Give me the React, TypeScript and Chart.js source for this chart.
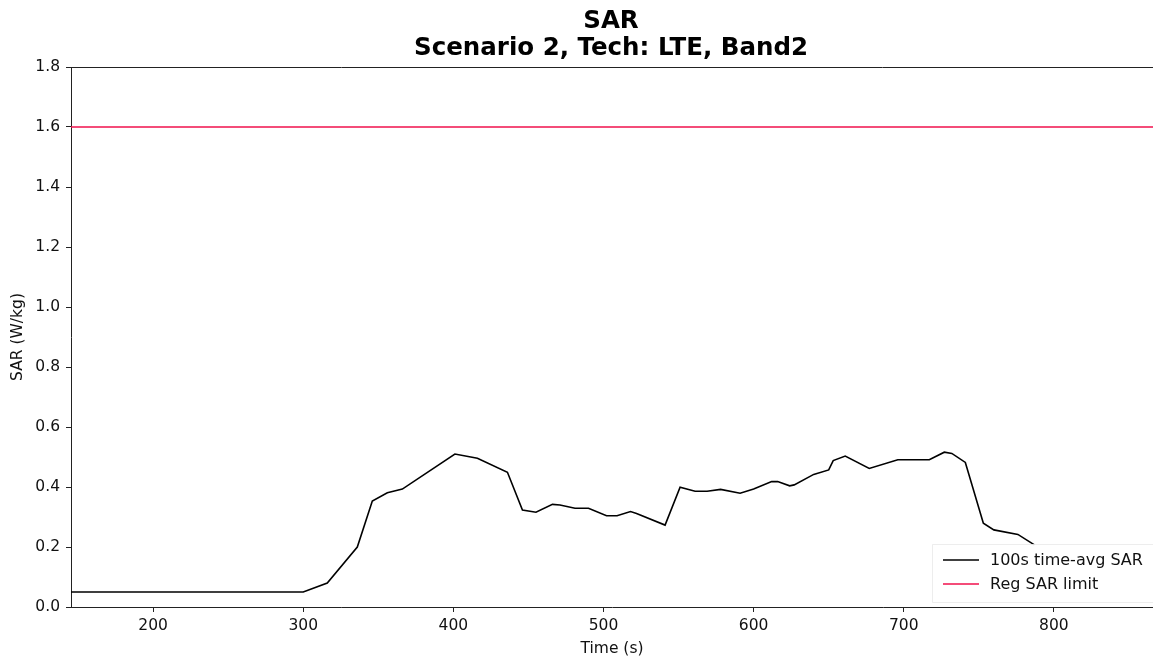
import React, { useEffect, useRef } from "react";
import { Chart, registerables } from "chart.js";

Chart.register(...registerables);

const titleLines = ["SAR", "Scenario 2, Tech: LTE, Band2"];
const timeS = [145, 300, 316, 336, 346, 356, 366, 401, 416, 436, 446, 455, 466, 471, 481, 490, 502, 509, 518, 522, 541, 551, 561, 569, 578, 591, 600, 612, 616, 624, 627, 640, 650, 653, 661, 677, 696, 717, 727, 732, 741, 753, 760, 776, 787];
const sarAvg = [0.05, 0.05, 0.08, 0.2, 0.353, 0.381, 0.393, 0.51, 0.496, 0.449, 0.323, 0.316, 0.342, 0.34, 0.329, 0.329, 0.304, 0.304, 0.318, 0.312, 0.273, 0.399, 0.386, 0.386, 0.392, 0.379, 0.393, 0.418, 0.418, 0.404, 0.407, 0.442, 0.457, 0.488, 0.503, 0.462, 0.491, 0.491, 0.516, 0.512, 0.482, 0.279, 0.257, 0.242, 0.207];
const limitX = [145, 866];
const limitY = [1.6, 1.6];
const xTicks = [200, 300, 400, 500, 600, 700, 800];
const yTicks = [0, 0.2, 0.4, 0.6, 0.8, 1.0, 1.2, 1.4, 1.6, 1.8];
const seriesLabels = ["100s time-avg SAR", "Reg SAR limit"];
const seriesColors = ["#000000", "#f0104c"];

const FONT = "'DejaVu Sans', sans-serif";

const decorPlugin = {
  id: "decor",
  afterDraw(chart: any) {
    const { ctx, chartArea } = chart;
    ctx.save();
    // top spine
    ctx.strokeStyle = "#222";
    ctx.lineWidth = 1;
    ctx.beginPath();
    ctx.moveTo(chartArea.left, chartArea.top + 0.5);
    ctx.lineTo(chartArea.right, chartArea.top + 0.5);
    ctx.stroke();
    // title
    ctx.fillStyle = "#000";
    ctx.font = `bold 24.5px ${FONT}`;
    ctx.textAlign = "center";
    ctx.textBaseline = "middle";
    ctx.fillText(titleLines[0], 611, 22);
    ctx.fillText(titleLines[1], 611, 49);
    // legend
    const bx = 932, by = 544, bw = 240, bh = 58;
    ctx.fillStyle = "rgba(255,255,255,0.85)";
    ctx.strokeStyle = "rgba(232,232,232,0.8)";
    ctx.lineWidth = 1;
    ctx.beginPath();
    ctx.rect(bx + 0.5, by + 0.5, bw, bh);
    ctx.fill();
    ctx.stroke();
    ctx.font = `16px ${FONT}`;
    ctx.textAlign = "left";
    ctx.textBaseline = "middle";
    const rows = [560, 584];
    seriesLabels.forEach((lab, i) => {
      ctx.strokeStyle = seriesColors[i];
      ctx.lineWidth = 1.5;
      ctx.beginPath();
      ctx.moveTo(943, rows[i]);
      ctx.lineTo(979, rows[i]);
      ctx.stroke();
      ctx.fillStyle = "#111";
      ctx.fillText(lab, 990, rows[i] + 1);
    });
    ctx.restore();
  },
};

export default function App() {
  const ref = useRef<HTMLCanvasElement | null>(null);
  useEffect(() => {
    if (!ref.current) return;
    const chart = new Chart(ref.current, {
      type: "line",
      data: {
        datasets: [
          {
            label: seriesLabels[0],
            data: timeS.map((t, i) => ({ x: t, y: sarAvg[i] })),
            borderColor: seriesColors[0],
            borderWidth: 1.6,
            pointRadius: 0,
            tension: 0,
            fill: false,
          },
          {
            label: seriesLabels[1],
            data: limitX.map((t, i) => ({ x: t, y: limitY[i] })),
            borderColor: seriesColors[1],
            borderWidth: 1.6,
            pointRadius: 0,
            tension: 0,
            fill: false,
          },
        ],
      },
      options: {
        responsive: false,
        animation: false,
        devicePixelRatio: 1,
        layout: { padding: { top: 67, right: 0, bottom: 0, left: 0 } },
        plugins: {
          legend: { display: false },
          title: { display: false },
          tooltip: { enabled: false },
        },
        scales: {
          x: {
            type: "linear",
            min: 145.3,
            max: 866,
            afterBuildTicks: (s: any) => {
              s.ticks = xTicks.map((v) => ({ value: v }));
            },
            afterFit: (s: any) => {
              s.height = 53;
            },
            grid: { display: true, drawOnChartArea: false, drawTicks: true, tickLength: 5, color: "#222" },
            border: { display: true, color: "#222", width: 1 },
            ticks: {
              color: "#111",
              font: { family: FONT, size: 15.5 },
              padding: 5,
              maxRotation: 0,
              callback: (v: any) => String(v),
            },
            title: {
              display: true,
              text: "Time (s)",
              color: "#111",
              font: { family: FONT, size: 15.5 },
              padding: { top: 0, bottom: 2 },
            },
          },
          y: {
            type: "linear",
            min: 0,
            max: 1.8,
            afterBuildTicks: (s: any) => {
              s.ticks = yTicks.map((v) => ({ value: v }));
            },
            afterFit: (s: any) => {
              s.width = 71;
            },
            grid: { display: true, drawOnChartArea: false, drawTicks: true, tickLength: 5, color: "#222" },
            border: { display: true, color: "#222", width: 1 },
            ticks: {
              color: "#111",
              font: { family: FONT, size: 15.5 },
              padding: 6,
              callback: (v: any) => Number(v).toFixed(1),
            },
            title: {
              display: true,
              text: "SAR (W/kg)",
              color: "#111",
              font: { family: FONT, size: 15.5 },
              padding: { top: 9, bottom: 0 },
            },
          },
        },
      },
      plugins: [decorPlugin],
    } as any);
    return () => chart.destroy();
  }, []);
  return (
    <div style={{ position: "absolute", left: 0, top: 0, width: 1153, height: 660, background: "#fff" }}>
      <canvas ref={ref} width={1153} height={660} style={{ display: "block" }} />
    </div>
  );
}
